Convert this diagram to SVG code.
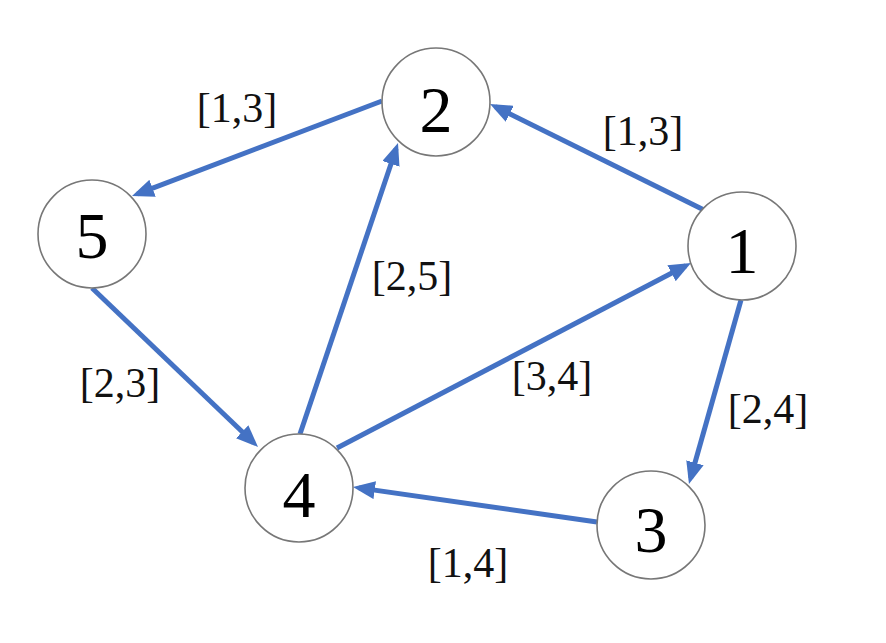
<svg xmlns="http://www.w3.org/2000/svg" width="886" height="643" viewBox="0 0 886 643">
<style>
.edge{stroke:#4472C4;stroke-width:5;fill:none;marker-end:url(#arr)}
.node circle{fill:#fff;stroke:#777;stroke-width:1.6}
.node text{font-family:"Liberation Serif","DejaVu Serif",serif;font-size:66px;fill:#000;text-anchor:middle}
.lbl{font-family:"Liberation Serif","DejaVu Serif",serif;font-size:42px;fill:#111;text-anchor:middle}
</style>
<defs>
<marker id="arr" markerUnits="userSpaceOnUse" markerWidth="22" markerHeight="18" refX="16" refY="9" orient="auto">
<path d="M0,0 L22,9 L0,18 z" fill="#4472C4"/>
</marker>
</defs>
<rect width="886" height="643" fill="#fff"/>
<g id="connectors">
<line class="edge" x1="382" y1="101" x2="137.6" y2="193.9"/>
<line class="edge" x1="704" y1="210" x2="495.4" y2="106.7"/>
<line class="edge" x1="300" y1="434" x2="396.1" y2="148.7"/>
<line class="edge" x1="92" y1="288" x2="253.7" y2="442.8"/>
<line class="edge" x1="337" y1="448" x2="685.7" y2="265.8"/>
<line class="edge" x1="741" y1="300" x2="690.6" y2="478.2"/>
<line class="edge" x1="597" y1="522" x2="358.9" y2="487.9"/>
</g>
<g id="labels">
<text class="lbl" x="237" y="122">[1,3]</text>
<text class="lbl" x="643" y="145">[1,3]</text>
<text class="lbl" x="412" y="290">[2,5]</text>
<text class="lbl" x="120" y="397">[2,3]</text>
<text class="lbl" x="552" y="390">[3,4]</text>
<text class="lbl" x="768" y="423">[2,4]</text>
<text class="lbl" x="468" y="577">[1,4]</text>
</g>
<g id="node2" class="node"><circle cx="436" cy="102" r="54"/><text x="436" y="132">2</text></g>
<g id="node5" class="node"><circle cx="92" cy="234" r="54"/><text x="92" y="258">5</text></g>
<g id="node1" class="node"><circle cx="742" cy="246" r="54"/><text x="742" y="273">1</text></g>
<g id="node4" class="node"><circle cx="299" cy="488" r="54"/><text x="299" y="517">4</text></g>
<g id="node3" class="node"><circle cx="651" cy="525" r="54"/><text x="651" y="552">3</text></g>
</svg>
